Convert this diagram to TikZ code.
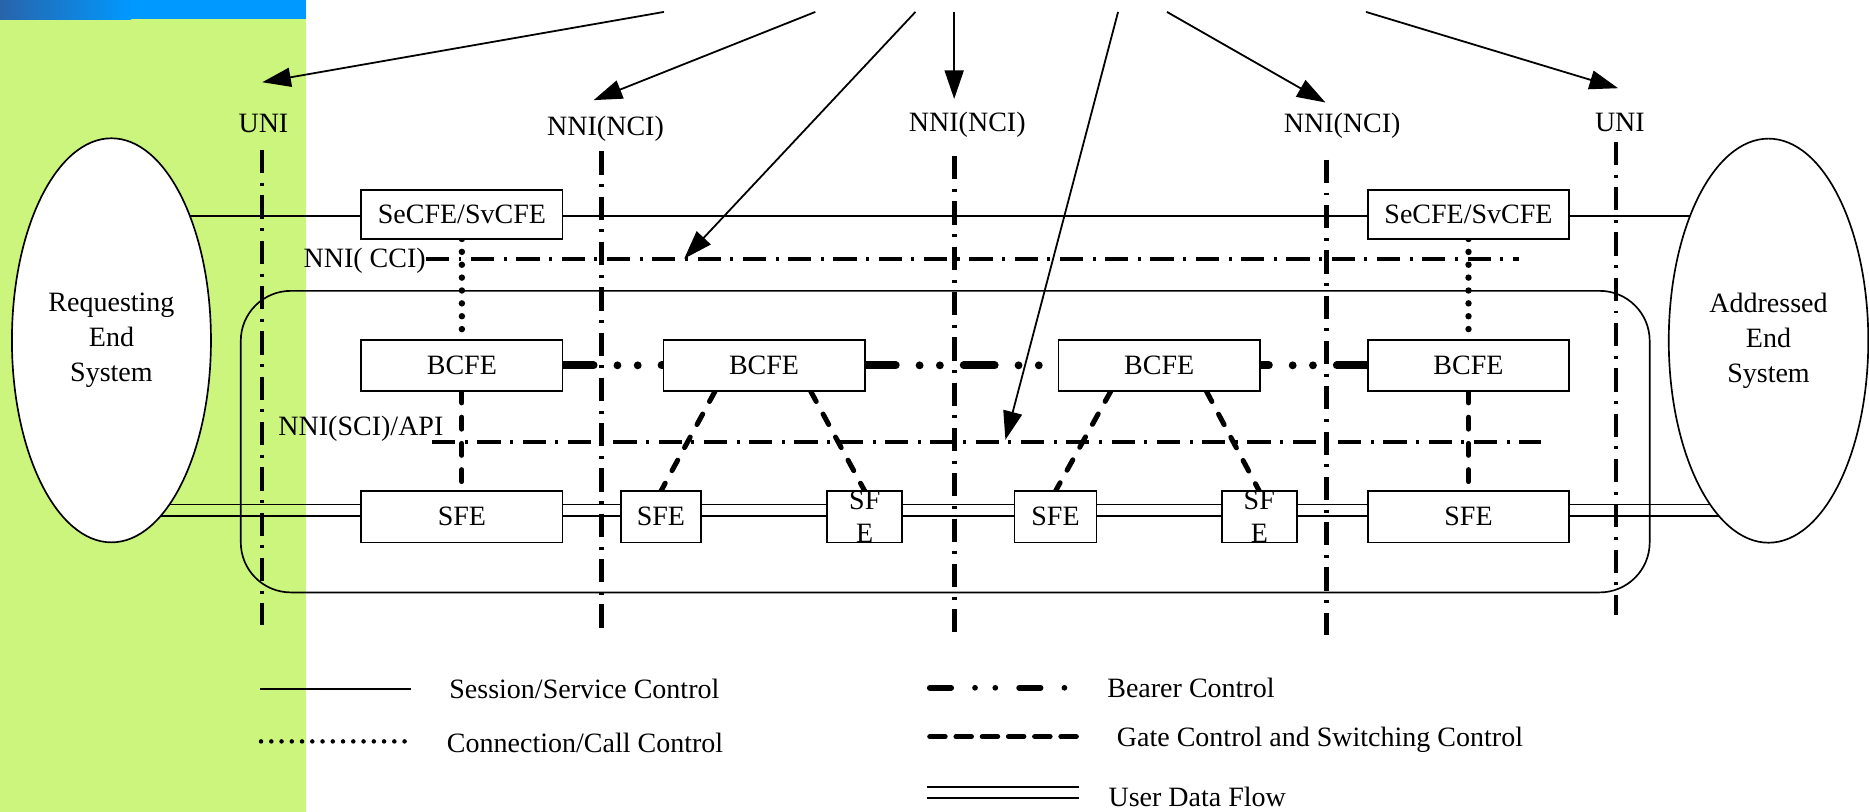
\documentclass[tikz,border=0pt]{standalone}
\usepackage{fontspec}
\setmainfont{Liberation Serif}
\usetikzlibrary{shapes.geometric,arrows.meta}
\pgfdeclarelayer{back}
\pgfdeclarelayer{mid}
\pgfsetlayers{back,mid,main}
\definecolor{panelgreen}{RGB}{203,245,124}
\definecolor{barblue}{RGB}{0,153,255}
\definecolor{bardark}{RGB}{40,100,170}

\tikzset{
  txt/.style={font=\fontsize{11.75}{14.8}\selectfont, inner sep=0pt, outer sep=0pt},
  febox/.style={txt, draw, line width=0.7pt, fill=white, minimum height=21.5pt},
  wide/.style={febox, minimum width=84.5pt},
  endsys/.style={txt, ellipse, draw, line width=0.7pt, fill=white,
    minimum width=83.5pt, minimum height=169.5pt, align=center},
  sessline/.style={line width=0.7pt},
  callline/.style={line width=2.7pt, line cap=round, dash pattern=on 0pt off 5.4pt},
  bearerline/.style={line width=3.3pt, line cap=round,
    dash pattern=on 13pt off 10pt on 0pt off 8.5pt on 0pt off 10pt},
  gateline/.style={line width=2.1pt, line cap=round, dash pattern=on 5pt off 6pt},
  ifline/.style={line width=1.7pt, dash pattern=on 9.75pt off 4pt on 1.25pt off 4pt},
  nniline/.style={ifline, line width=2pt},
  uniline/.style={ifline, line width=1.6pt},
  pointer/.style={line width=0.75pt, -{Triangle[length=12pt,width=8pt]}},
}

\begin{document}
\begin{tikzpicture}[x=0.5pt,y=-0.5pt]
\useasboundingbox (0,0) rectangle (1568,681);

% slide background: green side panel with blue title strip
\begin{pgfonlayer}{back}
  \fill[white] (0,0) rectangle (1568,681);
  \fill[panelgreen] (0,16) rectangle (257,681);
  \fill[barblue] (0,0) rectangle (257,16);
  \shade[left color=bardark, right color=barblue] (0,0) rectangle (110,16);
\end{pgfonlayer}

% end systems
\node[endsys] (req) at (93.5,285.5) {Requesting\\End\\System};
\node[endsys, minimum width=83.7pt] (addr) at (1483.7,285.8) {Addressed\\End\\System};

% network domain
\node[draw, line width=0.7pt, rounded corners=21pt, minimum width=591pt,
      minimum height=126.5pt, inner sep=0pt] (core) at (793,370.5) {};

% functional entities
\node[wide, minimum height=20.5pt] (sec1) at (387.5,180) {SeCFE/SvCFE};
\node[wide, minimum height=20.5pt] (sec2) at (1232,180) {SeCFE/SvCFE};
\node[wide] (b1) at (387.5,306.5) {BCFE};
\node[wide] (b2) at (641,306.5) {BCFE};
\node[wide] (b3) at (972.5,306.5) {BCFE};
\node[wide] (b4) at (1232,306.5) {BCFE};
\node[wide] (s1) at (387.5,433.5) {SFE};
\node[febox, minimum width=33.5pt] (s2) at (554.5,433.5) {SFE};
\node[febox, minimum width=31.5pt] (s3) at (725.5,433.5) {};
\node[txt, font=\fontsize{11.75}{14}\selectfont, align=center] (s3t) at (s3) {SF\\E};
\node[febox, minimum width=34.5pt] (s4) at (885.5,433.5) {SFE};
\node[febox, minimum width=31.5pt] (s5) at (1056.5,433.5) {};
\node[txt, font=\fontsize{11.75}{14}\selectfont, align=center] (s5t) at (s5) {SF\\E};
\node[wide] (s6) at (1232,433.5) {SFE};

% interface labels
\node[txt, anchor=base] (uniL) at (221,111.5) {UNI};
\node[txt, anchor=base] (nciL) at (508,114) {NNI(NCI)};
\node[txt, anchor=base] (nciM) at (811.5,110) {NNI(NCI)};
\node[txt, anchor=base] (nciR) at (1126,111) {NNI(NCI)};
\node[txt, anchor=base] (uniR) at (1359,110) {UNI};
\node[txt, anchor=base west] (ccil) at (254.7,224) {NNI( CCI)};
\node[txt, anchor=base west] (scil) at (233.6,365) {NNI(SCI)/API};

% rows used by the horizontal connectors
\coordinate (sessrow) at (0,181);
\coordinate (flowhi) at (0,423.3);
\coordinate (flowlo) at (0,432.7);
\coordinate (cciR) at (1274,217.5);
\coordinate (sciL) at (362.5,370.5);
\coordinate (sciR) at (1293,370.5);

\begin{pgfonlayer}{mid}
  % session/service control
  \draw[sessline] (req |- sessrow) -- (sec1.west |- sessrow);
  \draw[sessline] (sec1.east |- sessrow) -- (sec2.west |- sessrow);
  \draw[sessline] (sec2.east |- sessrow) -- (addr |- sessrow);
  % user data flow
  \foreach \a/\b in {req.center/s1.west, s1.east/s2.west, s2.east/s3.west,
                     s3.east/s4.west, s4.east/s5.west, s5.east/s6.west,
                     s6.east/addr.center} {
    \draw[sessline] (\a |- flowhi) -- (\b |- flowhi);
    \draw[sessline] (\a |- flowlo) -- (\b |- flowlo);
  }
  % bearer control
  \draw[bearerline] (b1.east) -- (b2.west);
  \draw[bearerline] (b2.east) -- (b3.west);
  \draw[bearerline] (b4.west) -- (b3.east);
  % gate control and switching control
  \draw[gateline] (b1.south) -- (s1.north);
  \draw[gateline] (b4.south) -- (s6.north);
  \draw[gateline] ([xshift=-20.5pt]b2.south) -- (s2.north);
  \draw[gateline] ([xshift=19.5pt]b2.south) -- (s3.north);
  \draw[gateline] ([xshift=-20.25pt]b3.south) -- (s4.north);
  \draw[gateline] ([xshift=19.75pt]b3.south) -- (s5.north);
  % connection/call control
  \draw[callline] (sec1.south) -- (b1.north);
  \draw[callline] (sec2.south) -- (b4.north);
  % reference points
  \draw[ifline] (ccil.east |- cciR) -- (cciR);
  \draw[ifline] (sciL) -- (sciR);
  \draw[uniline] (220,126) -- (220,524);
  \draw[nniline] (504.5,127) -- (504.5,527);
  \draw[nniline] (800.5,131) -- (800.5,530);
  \draw[nniline] (1113,134) -- (1113,533);
  \draw[uniline] (1356,119) -- (1356,516);
\end{pgfonlayer}

% pointers from the top
\coordinate (t1) at (557,10);   \coordinate (h1) at (220,69);
\coordinate (t2) at (684,10);   \coordinate (h2) at (498,84);
\coordinate (t3) at (768,10);   \coordinate (h3) at (574,217);
\coordinate (t4) at (800.5,10); \coordinate (h4) at (800.5,83);
\coordinate (t5) at (938,10);   \coordinate (h5) at (843.5,369);
\coordinate (t6) at (979,10);   \coordinate (h6) at (1112,86);
\coordinate (t7) at (1146,10);  \coordinate (h7) at (1357.5,74);
\foreach \i in {1,...,7} \draw[pointer] (t\i) -- (h\i);

% legend
\draw[sessline] (218,578) -- (345,578);
\draw[callline, line width=1.9pt, dash pattern=on 0pt off 4.3pt] (219,622) -- (340,622);
\draw[bearerline, line width=2.4pt,
      dash pattern=on 9pt off 10pt on 0pt off 8.5pt on 0pt off 10pt] (780,577) -- (900,577);
\draw[gateline, dash pattern=on 6.5pt off 4.5pt] (780,618) -- (903,618);
\draw[sessline] (778,660.3) -- (905,660.3);
\draw[sessline] (778,669.7) -- (905,669.7);
\node[txt, anchor=base west] (lg1) at (377,586) {Session/Service Control};
\node[txt, anchor=base west] (lg2) at (375,631) {Connection/Call Control};
\node[txt, anchor=base west] (lg3) at (929,585) {Bearer Control};
\node[txt, anchor=base west] (lg4) at (937,626) {Gate Control and Switching Control};
\node[txt, anchor=base west] (lg5) at (930,677) {User Data Flow};
\end{tikzpicture}
\end{document}
